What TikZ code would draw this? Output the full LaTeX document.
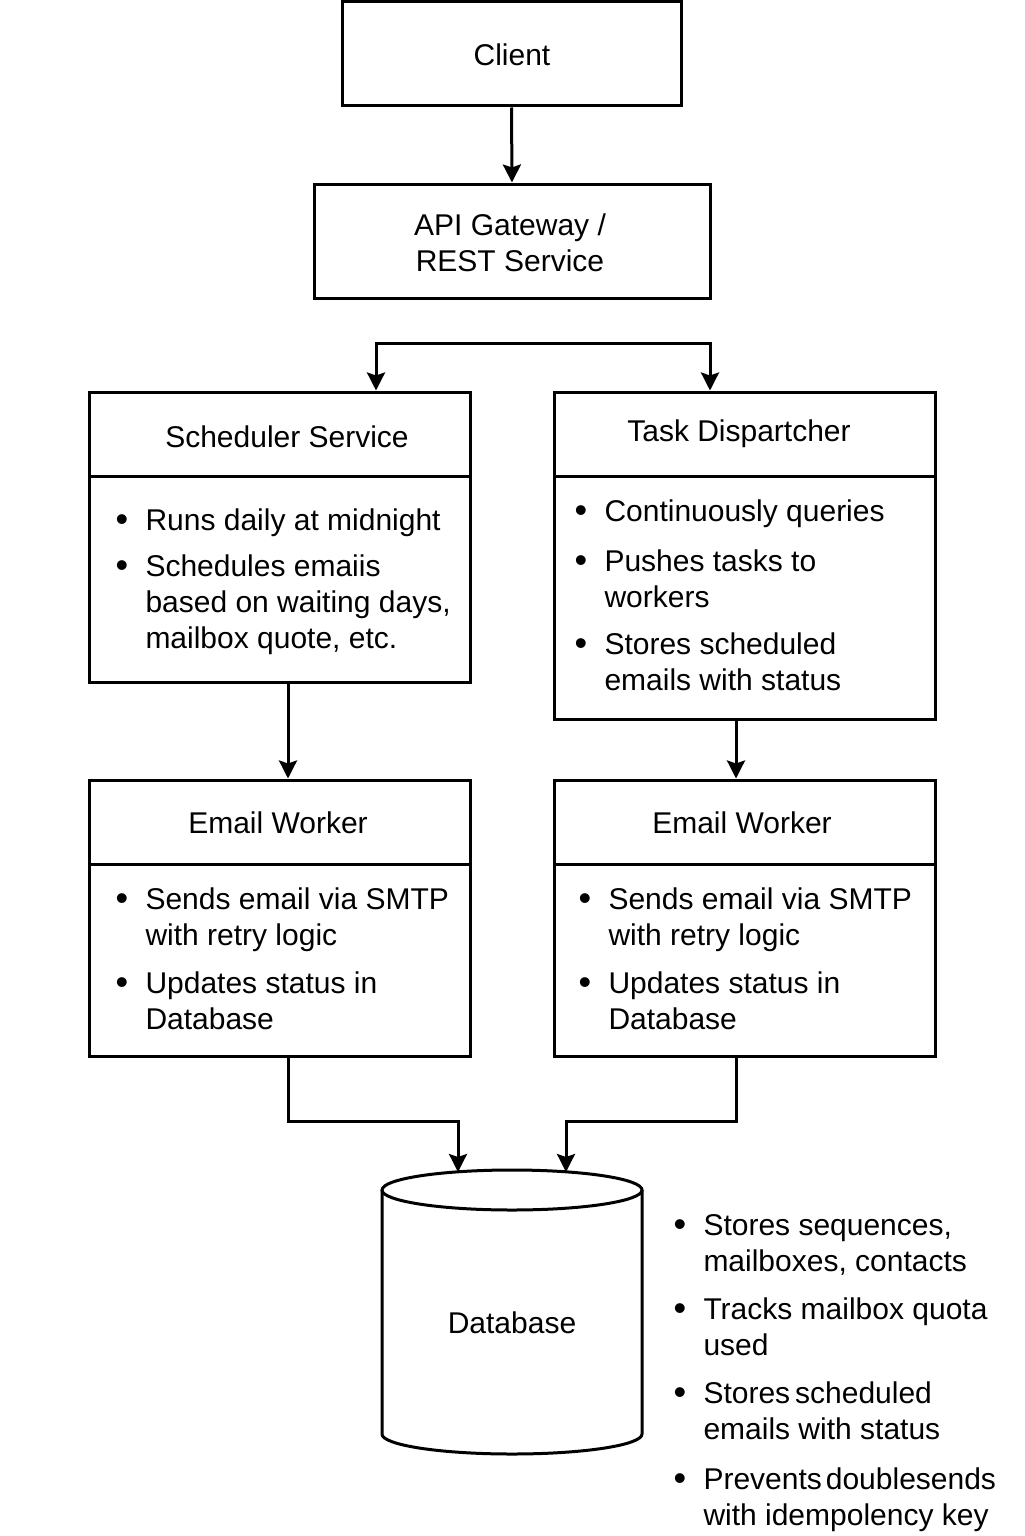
\documentclass[tikz,border=0pt]{standalone}
\usepackage{fontspec}
\setmainfont{Liberation Sans}
\usetikzlibrary{arrows.meta,fit}
\newcommand\bitem[1]{\makebox[15pt][l]{\raisebox{-0.8pt}{\fontsize{18}{18}\selectfont\textbullet}}\begin{tabular}[t]{@{}l@{}}#1\end{tabular}}
\begin{document}
\begin{tikzpicture}[x=0.5pt,y=-0.5pt,line width=1.5pt,
  box/.style={draw,inner sep=0pt},
  lbl/.style={font=\fontsize{15}{18}\selectfont,inner sep=0pt,align=center},
  itm/.style={font=\fontsize{15}{18}\selectfont,inner sep=0pt,anchor=base west},
  arr/.style={-{Stealth[length=9pt,width=9pt,inset=1.5pt]}},
  arrb/.style={{Stealth[length=9pt,width=9pt,inset=1.5pt]}-{Stealth[length=9pt,width=9pt,inset=1.5pt]}}]
\useasboundingbox (0,0) rectangle (1024,1536);
\fill[white] (0,0) rectangle (1024,1536);
% Client
\node[box,fit={(342,2) (681,106)}] (client) {};
\node[lbl] (clientt) at (512,55) {Client};
% API
\node[box,fit={(314,184) (710,298)}] (api) {};
\node[lbl] (apit) at (510,243) {API Gateway /\\ REST Service};
\draw[arr] (client.south) -- (api.north);
% Scheduler
\node[box,fit={(89,392) (470,476)}] (schedh) {};
\node[box,fit={(89,476) (470,682)}] (schedb) {};
\node[lbl] (schedt) at (287,437) {Scheduler Service};
\node[itm] (s1) at (114,530) {\bitem{Runs daily at midnight}};
\node[itm] (s2) at (114,576) {\bitem{Schedules emaiis\\based on waiting days,\\mailbox quote, etc.}};
% Task
\node[box,fit={(554,392) (935,476)}] (taskh) {};
\node[box,fit={(554,476) (935,719)}] (taskb) {};
\node[lbl] (taskt) at (739,434) {Task Dispartcher};
\node[itm] (t1) at (573,521) {\bitem{Continuously queries}};
\node[itm] (t2) at (573,571) {\bitem{Pushes tasks to\\workers}};
\node[itm] (t3) at (573,654) {\bitem{Stores scheduled\\emails with status}};
% split connector
\coordinate (sl) at (376,343);
\coordinate (sr) at (710,343);
\draw[arrb] (sl |- schedh.north) -- (sl) -- (sr) -- (sr |- taskh.north);
% Email workers
\node[box,fit={(89,780) (470,864)}] (ew1h) {};
\node[box,fit={(89,864) (470,1056)}] (ew1b) {};
\node[lbl] (ew1t) at (278,823) {Email Worker};
\node[itm] (e11) at (114,909) {\bitem{Sends email via SMTP\\with retry logic}};
\node[itm] (e12) at (114,993) {\bitem{Updates status in\\Database}};
\node[box,fit={(554,780) (935,864)}] (ew2h) {};
\node[box,fit={(554,864) (935,1056)}] (ew2b) {};
\node[lbl] (ew2t) at (742,823) {Email Worker};
\node[itm] (e21) at (577,909) {\bitem{Sends email via SMTP\\with retry logic}};
\node[itm] (e22) at (577,993) {\bitem{Updates status in\\Database}};
\draw[arr] (schedb.south -| 288,0) -- (ew1h.north -| 288,0);
\draw[arr] (taskb.south -| 736,0) -- (ew2h.north -| 736,0);
% Database
\draw (382,1190) -- (382,1434) arc[start angle=180,end angle=360,x radius=65pt,y radius=10pt] -- (642,1190);
\draw (512,1190) ellipse [x radius=65pt,y radius=10pt];
\node[inner sep=0pt,fit={(382,1170) (642,1454)}] (db) {};
\node[lbl] (dbt) at (512,1323) {Database};
\coordinate (dl) at (458,1172);
\coordinate (dr) at (566,1172);
\draw[arr] (ew1b.south -| 288,0) -- (288,1121) -- (458,1121) -- (dl);
\draw[arr] (ew2b.south -| 736,0) -- (736,1121) -- (566,1121) -- (dr);
\node[itm] (d1) at (672,1235) {\bitem{Stores sequences,\\mailboxes, contacts}};
\node[itm] (d2) at (672,1319) {\bitem{Tracks mailbox quota\\used}};
\node[itm] (d3) at (672,1403) {\bitem{Stores\hspace{2.5pt}scheduled\\emails with status}};
\node[itm] (d4) at (672,1489) {\bitem{Prevents\hspace{2pt}doublesends\\with idempolency key}};
\end{tikzpicture}
\end{document}
